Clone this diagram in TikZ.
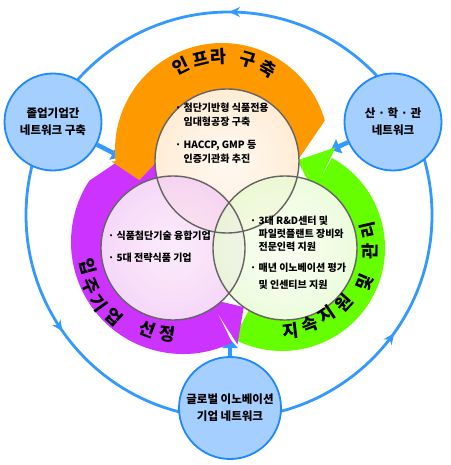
\documentclass[tikz,border=0pt]{standalone}
\usepackage{fontspec}
\setmainfont{Noto Sans CJK KR}
\usetikzlibrary{arrows.meta,decorations.markings,calc}
\definecolor{bline}{RGB}{51,153,255}
\definecolor{bfill}{RGB}{165,207,255}
\definecolor{bborder}{RGB}{30,136,255}
\definecolor{orangeband}{RGB}{255,153,0}
\definecolor{purpleband}{RGB}{204,51,255}
\definecolor{greenband}{RGB}{102,255,0}
\definecolor{vline}{RGB}{100,100,100}
\pgfdeclareradialshading{tshade}{\pgfpoint{0bp}{0bp}}{rgb(0bp)=(1,0.97,0.93); rgb(20bp)=(1,0.92,0.82); rgb(50bp)=(1,0.80,0.56)}
\pgfdeclareradialshading{lshade}{\pgfpoint{0bp}{0bp}}{rgb(0bp)=(0.98,0.90,0.98); rgb(20bp)=(0.96,0.82,0.97); rgb(50bp)=(0.90,0.62,0.95)}
\pgfdeclareradialshading{rshade}{\pgfpoint{0bp}{0bp}}{rgb(0bp)=(0.97,1,0.94); rgb(20bp)=(0.92,0.99,0.85); rgb(50bp)=(0.78,0.96,0.60)}
\begin{document}
\begin{tikzpicture}[x=1pt,y=-1pt,
  bigring/.style={draw=bline, line width=2.8pt},
  smallc/.style={circle, draw=bborder, fill=bfill, line width=1.8pt, inner sep=0pt, align=center, font=\fontsize{11.5}{17}\selectfont\bfseries},
  barrow/.style={draw=bline, line width=4.5pt, -{Triangle[length=9pt,width=15pt]}},
  vennborder/.style={draw=vline, line width=1.4pt},
  vtext/.style={anchor=north west, inner sep=0pt, align=left, font=\fontsize{10}{14.5}\selectfont\bfseries},
  bandglyph/.style={inner sep=0pt, font=\fontsize{17.5}{17.5}\selectfont\bfseries}
]
\useasboundingbox (0,0) rectangle (450,465);
\fill[white] (0,0) rectangle (450,465);
\coordinate (BC) at (229,215);
\coordinate (Co) at (222,150);
\coordinate (Cp) at (183,242);
\coordinate (Cg) at (282,248);
\coordinate (T) at (227,161);
\coordinate (L) at (173,248);
\coordinate (R) at (285,248);

% big ring with arrows
\draw[bigring, decoration={markings,
   mark=at position 0.25 with {\arrow{Stealth[length=11pt,width=10pt]}},
   mark=at position 0.597 with {\arrow{Stealth[length=11pt,width=10pt]}},
   mark=at position 0.901 with {\arrow{Stealth[length=11pt,width=10pt]}}},
   postaction=decorate]
  ($(BC)+(0:203)$) arc[start angle=0, end angle=-360, radius=203];

% small circles
\node[smallc, minimum size=97pt] (tl) at (53,122) {졸업기업간\\네트워크 구축};
\node[smallc, minimum size=97pt] (tr) at (393,122) {산 · 학 · 관\\네트워크};
\node[smallc, minimum size=102pt] (bt) at (230,408) {글로벌 이노베이션\\기업 네트워크};
\coordinate (tlend) at (121,157);
\coordinate (trend) at (331,150);
\coordinate (btend) at (230,339);
\draw[barrow] (tl) -- (tlend);
\draw[barrow] (tr) -- (trend);
\draw[barrow] (bt) -- (btend);

% band bodies
\fill[greenband] ($(Cg)+(-61:40)$) -- ($(Cg)+(-61:103)$) arc[start angle=-61, end angle=118, radius=103]
   -- ($(Cg)+(118:40)$) arc[start angle=118, end angle=-61, radius=40] -- cycle;
\begin{scope}
  \clip (0,241) -- (160,133) -- (450,133) -- (450,465) -- (0,465) -- cycle;
  \fill[purpleband] ($(Cp)+(64:40)$) -- ($(Cp)+(64:112)$) arc[start angle=64, end angle=255, radius=112]
     -- ($(Cp)+(255:40)$) arc[start angle=255, end angle=64, radius=40] -- cycle;
\end{scope}
\fill[orangeband] ($(Co)+(174:55)$) -- ($(Co)+(174:107)$) arc[start angle=174, end angle=344, radius=107]
   -- (300,157) -- ($(Co)+(5:55)$) arc[start angle=5, end angle=-186, radius=55] -- cycle;
% heads
\fill[orangeband] ($(Co)+(174:111)$) -- ($(Co)+(176:58)$) -- ($(Co)+(160:88)$) -- cycle;
\fill[purpleband] ($(Cp)+(66:62)$) -- ($(Cp)+(62:116)$) -- ($(Cp)+(47:89)$) -- cycle;
\fill[greenband] ($(Cg)+(-62:114)$) -- ($(Cg)+(-60:64)$) -- ($(Cg)+(-80:89)$) -- cycle;

% venn circles
\foreach \cc in {T,L,R} \fill[white] (\cc) circle (72);
\shade[shading=tshade, fill opacity=0.75] (T) circle (72);
\shade[shading=lshade, fill opacity=0.75] (L) circle (72);
\shade[shading=rshade, fill opacity=0.75] (R) circle (72);
\foreach \cc in {T,L,R} \draw[vennborder] (\cc) circle (72);

% venn texts
\node[vtext] (ttext) at (175,102.5) {· 첨단기반형 식품전용\\\phantom{· }임대형공장 구축\\[8pt]· HACCP, GMP 등\\\phantom{· }인증기관화 추진};
\node[vtext] (ltext) at (108,230.5) {· 식품첨단기술 융합기업\\[7.5pt]· 5대 전략식품 기업};
\node[vtext, font=\fontsize{10}{13.4}\selectfont\bfseries] (rtext) at (250,215.5) {· 3대 R\&D센터 및\\\phantom{· }파일럿플랜트 장비와\\\phantom{· }전문인력 지원\\[7.5pt]· 매년 이노베이션 평가\\[3pt]\phantom{· }및 인센티브 지원};

% band labels (orange, tops outward)
\node[bandglyph, rotate=26.3] (o1) at ($(Co)+(243.7:93.5)$) {인};
\node[bandglyph, rotate=13.4] (o2) at ($(Co)+(256.6:93.5)$) {프};
\node[bandglyph, rotate=2.2]  (o3) at ($(Co)+(267.8:93.5)$) {라};
\node[bandglyph, rotate=-16.4] (o4) at ($(Co)+(286.4:93.5)$) {구};
\node[bandglyph, rotate=-29.6] (o5) at ($(Co)+(299.6:93.5)$) {축};
% purple (tops inward)
\node[bandglyph, rotate=-75] (p1) at (88,267) {입};
\node[bandglyph, rotate=-65] (p2) at (90,286) {주};
\node[bandglyph, rotate=-54] (p3) at (99,303) {기};
\node[bandglyph, rotate=-42] (p4) at (114,317) {업};
\node[bandglyph, rotate=-21] (p5) at (147,329) {선};
\node[bandglyph, rotate=-7]  (p6) at (167,334) {정};
% green (tops inward)
\node[bandglyph, rotate=7]   (g1) at (291,331) {지};
\node[bandglyph, rotate=21]  (g2) at (310,325) {속};
\node[bandglyph, rotate=34]  (g3) at (327,315) {지};
\node[bandglyph, rotate=48]  (g4) at (344,303) {원};
\node[bandglyph, rotate=67]  (g5) at (365,283) {및};
\node[bandglyph, rotate=89]  (g6) at (370,251) {관};
\node[bandglyph, rotate=103] (g7) at (368,230) {리};
\end{tikzpicture}
\end{document}
